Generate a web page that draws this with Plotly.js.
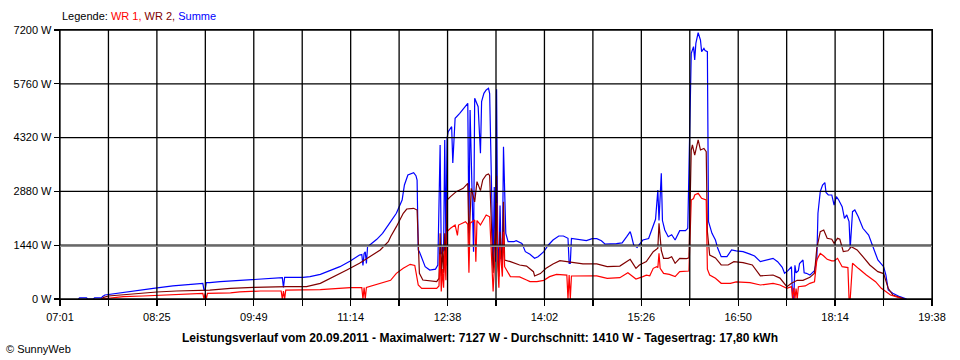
<!DOCTYPE html>
<html><head><meta charset="utf-8">
<script src="https://cdn.plot.ly/plotly-3.0.1.min.js"></script>
<style>html,body{margin:0;padding:0;background:#fff;} #chart{width:960px;height:360px;}</style>
</head><body><div id="chart"></div>
<script>
const tickLabels = ["07:01","08:25","09:49","11:14","12:38","14:02","15:26","16:50","18:14","19:38"];
const yTickValues = [0,1440,2880,4320,5760,7200];
const avgW = 1410;

const sumTimes = ["07:17","07:18","07:24","07:25","07:30","07:31","07:37","07:38","07:40","07:43","07:47","07:55","08:04","08:22","08:39","08:57","09:05","09:06","09:07","09:08","09:11","09:20","09:29","09:35","09:49","10:03","10:14","10:15","10:16","10:32","10:38","10:47","10:55","11:04","11:13","11:21","11:23","11:24","11:25","11:26","11:27","11:28","11:36","11:41","11:47","11:53","11:58","12:00","12:03","12:08","12:10","12:11","12:12","12:13","12:18","12:22","12:27","12:29","12:31","12:32","12:34","12:35","12:36","12:37","12:38","12:41","12:42","12:44","12:48","12:53","12:55","12:56","12:57","13:00","13:01","13:04","13:06","13:07","13:09","13:11","13:13","13:14","13:15","13:17","13:18","13:19","13:20","13:21","13:22","13:23","13:24","13:25","13:26","13:28","13:30","13:35","13:37","13:42","13:45","13:49","13:53","13:56","14:01","14:05","14:09","14:14","14:18","14:22","14:23","14:24","14:25","14:32","14:38","14:43","14:47","14:51","14:54","15:04","15:09","15:13","15:16","15:17","15:19","15:22","15:24","15:27","15:32","15:36","15:38","15:40","15:41","15:43","15:44","15:46","15:49","15:52","15:55","15:59","16:04","16:06","16:08","16:09","16:11","16:12","16:13","16:15","16:17","16:18","16:20","16:21","16:23","16:24","16:27","16:30","16:32","16:35","16:40","16:44","16:48","16:54","17:00","17:04","17:09","17:20","17:24","17:28","17:30","17:33","17:36","17:37","17:38","17:39","17:40","17:42","17:43","17:46","17:47","17:49","17:52","17:56","17:58","17:59","18:01","18:02","18:03","18:05","18:06","18:08","18:11","18:13","18:15","18:17","18:20","18:22","18:24","18:26","18:27","18:29","18:31","18:34","18:38","18:43","18:47","18:51","18:56","18:58","19:00","19:04","19:10","19:15","19:16"];
const sumValues = [0,30,30,0,0,30,30,70,107,120,150,180,220,285,350,400,420,240,240,437,437,463,482,490,527,553,571,313,580,580,598,660,750,865,1017,1178,1190,900,1220,1260,950,1400,1597,1758,2026,2294,2650,3052,3319,3381,3300,3185,1312,1266,865,776,800,910,4122,1200,1300,4256,1500,4301,4479,4613,3640,4837,4970,5148,5238,1758,5059,1266,5372,5148,3900,5281,5506,5594,5640,5500,4000,900,3000,1000,5613,1500,800,2500,1200,1000,4077,1758,1534,1534,1560,1490,1266,1196,1089,1130,1267,1446,1579,1686,1686,1624,955,955,1624,1600,1561,1615,1615,1560,1472,1480,1500,1668,1802,1700,1446,1383,1450,1579,1620,1936,2133,2918,2100,3364,2100,1847,1668,1720,1579,1829,1829,1892,5238,6576,6754,6400,6843,7127,6932,6620,6710,6650,6620,2070,1758,1579,1357,1133,1133,1312,1290,1267,1200,1150,999,1089,1000,848,687,760,865,0,0,900,700,760,950,1044,700,687,640,760,1044,2294,2873,3007,3052,3114,2850,2784,2784,2516,2739,2650,2471,2160,2250,2070,1357,2338,2382,2204,1892,1713,1357,1044,865,642,241,152,62,10,0];

const wr2Times = ["07:37","07:39","07:43","07:53","08:08","08:25","08:42","09:03","09:11","09:29","09:49","10:18","10:35","10:47","10:58","11:10","11:21","11:30","11:39","11:46","11:48","11:53","11:59","12:02","12:08","12:11","12:12","12:13","12:16","12:22","12:28","12:30","12:31","12:32","12:33","12:34","12:35","12:36","12:37","12:40","12:45","12:51","12:55","12:56","12:58","13:01","13:03","13:06","13:08","13:11","13:13","13:14","13:15","13:17","13:19","13:20","13:21","13:22","13:23","13:25","13:26","13:27","13:32","13:40","13:46","13:52","13:53","13:58","14:03","14:09","14:15","14:21","14:27","14:35","14:47","14:56","15:07","15:16","15:21","15:24","15:30","15:36","15:40","15:41","15:43","15:45","15:49","15:52","15:55","15:59","16:05","16:07","16:09","16:10","16:12","16:14","16:15","16:17","16:20","16:22","16:23","16:25","16:30","16:35","16:41","16:46","16:54","17:02","17:09","17:20","17:26","17:32","17:36","17:41","17:46","17:52","17:56","17:58","18:01","18:04","18:07","18:11","18:13","18:16","18:18","18:21","18:25","18:28","18:33","18:38","18:44","18:51","18:56","19:00","19:04","19:13","19:14"];
const wr2Values = [0,45,80,107,150,187,214,240,240,285,313,330,330,420,580,776,955,1133,1312,1534,1668,1936,2294,2409,2427,2380,1312,687,509,490,464,550,1758,600,1400,700,1758,900,2650,2739,2873,2963,3097,1500,2963,2600,3141,2900,3186,3319,3346,3300,2500,700,2000,3300,1000,600,1800,900,2600,1044,999,910,880,731,616,680,821,937,1026,1000,955,940,940,865,880,1062,821,910,1000,1267,1357,2026,1300,1089,1089,1130,955,1089,1080,1100,3988,4122,3854,4100,4256,3988,4030,3943,1803,1178,1100,910,910,1000,972,910,620,642,560,330,420,500,500,580,690,1357,1802,1847,1624,1600,1490,1624,1600,1267,1290,1400,1312,1133,910,732,680,285,107,10,0];

const wr1Times = ["07:37","07:42","07:47","07:56","08:13","08:34","08:57","09:05","09:06","09:07","09:08","09:09","09:29","09:37","09:55","10:13","10:14","10:15","10:16","10:17","10:47","11:13","11:23","11:24","11:25","11:26","11:27","11:29","11:39","11:48","11:53","11:59","12:05","12:09","12:12","12:15","12:28","12:30","12:31","12:32","12:33","12:34","12:35","12:36","12:37","12:40","12:44","12:46","12:47","12:53","12:55","12:56","12:57","13:01","13:02","13:03","13:06","13:11","13:14","13:15","13:17","13:19","13:20","13:21","13:22","13:23","13:25","13:26","13:27","13:32","13:40","13:46","13:49","13:55","14:01","14:06","14:12","14:21","14:22","14:23","14:24","14:25","14:47","14:56","15:07","15:14","15:21","15:27","15:30","15:33","15:36","15:39","15:40","15:41","15:42","15:45","15:50","15:55","15:59","16:07","16:09","16:11","16:12","16:15","16:18","16:22","16:23","16:25","16:30","16:35","16:43","16:48","17:00","17:09","17:20","17:26","17:32","17:36","17:37","17:38","17:39","17:40","17:41","17:42","17:48","17:52","17:56","17:58","18:01","18:04","18:07","18:11","18:13","18:16","18:20","18:25","18:26","18:27","18:29","18:34","18:41","18:49","18:54","19:02","19:12","19:13"];
const wr1Values = [0,18,45,62,80,107,125,152,0,152,0,152,165,190,214,214,0,214,0,240,250,303,303,0,303,0,310,330,420,500,687,821,928,900,375,285,285,350,1200,200,800,300,1300,500,1803,1892,1981,1700,1980,2070,2000,700,2030,2115,1000,2100,1981,2249,2200,1600,200,1400,2570,900,300,1400,600,1800,865,598,590,509,464,464,500,598,660,640,0,640,0,616,620,553,570,705,535,600,640,620,821,865,840,1223,821,687,660,598,732,750,2650,2690,2784,2829,2695,2650,800,642,553,420,420,460,440,375,420,375,285,330,0,300,0,280,0,330,350,420,460,1044,1223,1150,1062,1020,1020,1089,865,840,0,0,955,821,642,464,285,107,10,0];

const toMin = s => { const p = s.split(':').map(Number); return p[0]*60 + p[1]; };
const xStart = toMin(tickLabels[0]);
const xEnd = toMin(tickLabels[tickLabels.length-1]);
const nGrid = (tickLabels.length - 1) * 2;
const tickvals = [], ticktext = [];
for (let k = 0; k <= nGrid; k++) {
  tickvals.push(xStart + k * (xEnd - xStart) / nGrid);
  ticktext.push(k % 2 === 0 ? tickLabels[k/2] : '');
}

const font = {family: '"Liberation Sans", Arial, sans-serif', size: 11, color: '#000'};

const traces = [
  {x: sumTimes.map(toMin), y: sumValues, name: 'Summe', type: 'scatter', mode: 'lines', line: {color: '#0000ff', width: 1.2}},
  {x: wr2Times.map(toMin), y: wr2Values, name: 'WR 2', type: 'scatter', mode: 'lines', line: {color: '#800000', width: 1.2}},
  {x: wr1Times.map(toMin), y: wr1Values, name: 'WR 1', type: 'scatter', mode: 'lines', line: {color: '#ff0000', width: 1.2}}
];

const shapes = [];
tickvals.forEach(v => shapes.push({type: 'line', xref: 'x', yref: 'paper', x0: v, x1: v, y0: 0, y1: 1, layer: 'above', line: {color: '#000', width: 1.3}}));
yTickValues.forEach(v => shapes.push({type: 'line', xref: 'paper', yref: 'y', x0: 0, x1: 1, y0: v, y1: v, layer: 'above', line: {color: '#000', width: 1.3}}));
shapes.push({type: 'line', xref: 'paper', yref: 'y', x0: 0, x1: 1, y0: avgW, y1: avgW, layer: 'above', line: {color: '#909090', width: 1.5}});

const layout = {
  width: 960, height: 360,
  margin: {l: 60, r: 28, t: 30, b: 61},
  paper_bgcolor: '#fff', plot_bgcolor: '#fff',
  font: font,
  showlegend: false,
  xaxis: {
    range: [xStart, xEnd], tickvals: tickvals, ticktext: ticktext,
    showgrid: false, zeroline: false,
    showline: true, linecolor: '#000', linewidth: 1.3, mirror: true,
    ticks: 'outside', ticklen: 6, tickcolor: '#000', tickwidth: 1.3,
    ticklabelstandoff: 1,
    tickfont: font
  },
  yaxis: {
    range: [0, 7200], tickvals: yTickValues, ticktext: yTickValues.map(v => v + ' W'),
    showgrid: false, zeroline: false,
    showline: true, linecolor: '#000', linewidth: 1.3, mirror: true,
    ticks: 'outside', ticklen: 5, tickcolor: '#000', tickwidth: 1.3,
    tickfont: font
  },
  shapes: shapes,
  annotations: [
    {xref: 'paper', yref: 'paper', x: 0, y: 1.052, xanchor: 'left', yanchor: 'middle', showarrow: false, font: font,
     text: 'Legende: <span style="color:#ff0000">WR 1,</span> <span style="color:#800000">WR 2,</span> <span style="color:#0000ff">Summe</span>'},
    {xref: 'paper', yref: 'paper', x: (480 - 60) / 872, y: -0.145, xanchor: 'center', yanchor: 'middle', showarrow: false,
     font: {family: font.family, size: 12, color: '#000'},
     text: '<b>Leistungsverlauf vom 20.09.2011 - Maximalwert: 7127 W - Durchschnitt: 1410 W - Tagesertrag: 17,80 kWh</b>'},
    {xref: 'paper', yref: 'paper', x: (4 - 60) / 872, y: -0.186, xanchor: 'left', yanchor: 'middle', showarrow: false, font: font,
     text: '© SunnyWeb'}
  ]
};

Plotly.newPlot('chart', traces, layout, {staticPlot: true, displayModeBar: false});
</script>
</body></html>
